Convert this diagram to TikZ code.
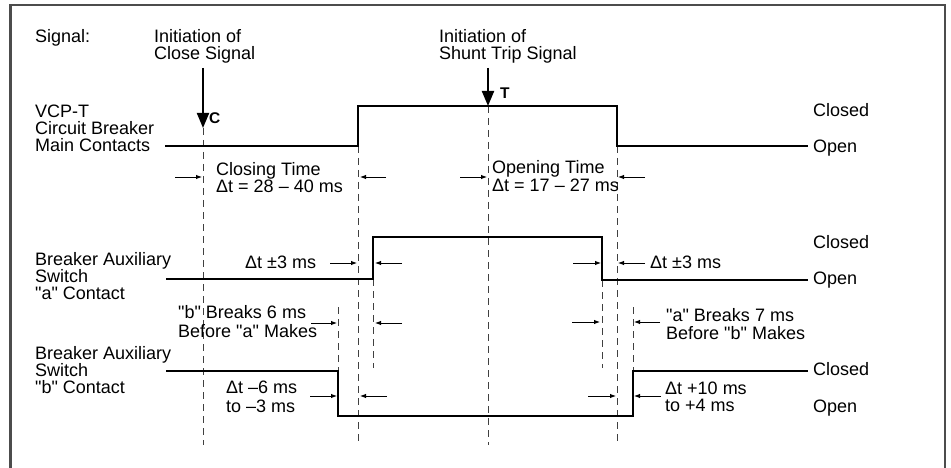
\documentclass[tikz,border=0pt]{standalone}
\usepackage{fontspec}
\setmainfont{Liberation Sans}
\usetikzlibrary{arrows.meta}
\newcommand{\dq}{\textquotedbl}
\begin{document}
\begin{tikzpicture}[x=1pt,y=-1pt,
  sig/.style={line width=2pt, line join=miter},
  vline/.style={draw=black!75, line width=1pt, dash pattern=on 7pt off 5pt},
  dimarrow/.style={line width=0.9pt, -{Latex[length=6pt,width=4.5pt]}},
  bigarrow/.style={line width=2pt, -{Triangle[length=15pt,width=12pt]}},
  lbl/.style={anchor=base west, inner sep=0pt, font=\fontsize{18}{16}\selectfont},
  boldlbl/.style={anchor=base west, inner sep=0pt, font=\fontsize{15.5}{16}\selectfont\bfseries},
  frameline/.style={draw=black!70, line width=2.5pt}]
\useasboundingbox (0,0) rectangle (951,468);
% frame
\draw[frameline] (10.5,470) -- (10.5,5) -- (945,5) -- (945,470);

% key coordinates
\coordinate (Ctop) at (203,68);   \coordinate (Ctip) at (203,128); \coordinate (Cbot) at (203,445);
\coordinate (Ttop) at (488,68);   \coordinate (Ttip) at (488,106); \coordinate (Tbot) at (488,445);
\coordinate (Mup) at (358,146);   \coordinate (Mupb) at (358,445);
\coordinate (Mdn) at (617,146);   \coordinate (Mdnb) at (617,445);
\coordinate (Aup) at (373,279);   \coordinate (Aupb) at (373,368);
\coordinate (Adn) at (602,280);   \coordinate (Adnb) at (602,368);
\coordinate (Bdn) at (338,371);   \coordinate (Bdnt) at (338,307);
\coordinate (Bup) at (633,371);   \coordinate (Bupt) at (633,307);

% dashed verticals
\draw[vline] (Ctip) -- (Cbot);
\draw[vline] (Ttip) -- (Tbot);
\draw[vline] (Mup) -- (Mupb);
\draw[vline] (Mdn) -- (Mdnb);
\draw[vline] (Aup) -- (Aupb);
\draw[vline] (Adn) -- (Adnb);
\draw[vline] (Bdnt) -- (Bdn);
\draw[vline] (Bupt) -- (Bup);

% signal arrows
\draw[bigarrow] (Ctop) -- (Ctip);
\draw[bigarrow] (Ttop) -- (Ttip);

% waveforms
\draw[sig] (165,146) -- (Mup) -- (358,106) -- (617,106) -- (Mdn) -- (808,146);
\draw[sig] (166,279) -- (Aup) -- (373,237) -- (602,237) -- (Adn) -- (808,280);
\draw[sig] (166,371) -- (Bdn) -- (338,416) -- (633,416) -- (Bup) -- (808,371);

% dimension arrows
\draw[dimarrow] (175,177) -- (202,177);
\draw[dimarrow] (386,177) -- (360,177);
\draw[dimarrow] (460,177) -- (487,177);
\draw[dimarrow] (645,177) -- (618,177);

\draw[dimarrow] (330,263) -- (357,263);
\draw[dimarrow] (402,263) -- (375,263);
\draw[dimarrow] (573,263) -- (601,263);
\draw[dimarrow] (645,263) -- (618,263);

\draw[dimarrow] (311,323) -- (337,323);
\draw[dimarrow] (402,323) -- (375,323);
\draw[dimarrow] (572,322) -- (600,322);
\draw[dimarrow] (660,322) -- (634,322);

\draw[dimarrow] (310,396) -- (337,396);
\draw[dimarrow] (387,396) -- (360,396);
\draw[dimarrow] (588,396) -- (616,396);
\draw[dimarrow] (661,396) -- (634,396);

% texts
\node[lbl] (sig) at (35,43) {Signal:};
\node[lbl] (ic1) at (154,43) {Initiation of};
\node[lbl] (ic2) at (154,60) {Close Signal};
\node[lbl] (it1) at (439,43) {Initiation of};
\node[lbl] (it2) at (439,60) {Shunt Trip Signal};
\node[boldlbl] (cC) at (209,124) {C};
\node[boldlbl] (tT) at (500,99) {T};
\node[lbl] (m1) at (35,118) {VCP-T};
\node[lbl] (m2) at (35,135) {Circuit Breaker};
\node[lbl] (m3) at (35,151.5) {Main Contacts};
\node[lbl] (mc) at (813,117) {Closed};
\node[lbl] (mo) at (813,153) {Open};
\node[lbl] (ct1) at (216,176) {Closing Time};
\node[lbl] (ct2) at (216,193) {Δt = 28 – 40 ms};
\node[lbl] (ot1) at (492,174) {Opening Time};
\node[lbl] (ot2) at (492,192) {Δt = 17 – 27 ms};
\node[lbl] (d3l) at (245,268) {Δt ±3 ms};
\node[lbl] (d3r) at (650,268) {Δt ±3 ms};
\node[lbl] (ac) at (813,248) {Closed};
\node[lbl] (ao) at (813,284) {Open};
\node[lbl] (a1) at (35,265.5) {Breaker Auxiliary};
\node[lbl] (a2) at (35,282.5) {Switch};
\node[lbl] (a3) at (35,299) {\dq a\dq{} Contact};
\node[lbl] (bb1) at (178,318) {\dq b\dq{} Breaks 6 ms};
\node[lbl] (bb2) at (178,337) {Before \dq a\dq{} Makes};
\node[lbl] (ab1) at (666,321) {\dq a\dq{} Breaks 7 ms};
\node[lbl] (ab2) at (666,339) {Before \dq b\dq{} Makes};
\node[lbl] (b1) at (35,359.5) {Breaker Auxiliary};
\node[lbl] (b2) at (35,376.5) {Switch};
\node[lbl] (b3) at (35,393) {\dq b\dq{} Contact};
\node[lbl] (n61) at (226,393) {Δt –6 ms};
\node[lbl] (n62) at (226,412) {to –3 ms};
\node[lbl] (bc) at (813,375) {Closed};
\node[lbl] (bo) at (813,412) {Open};
\node[lbl] (p101) at (665,394) {Δt +10 ms};
\node[lbl] (p102) at (665,411) {to +4 ms};
\end{tikzpicture}
\end{document}
